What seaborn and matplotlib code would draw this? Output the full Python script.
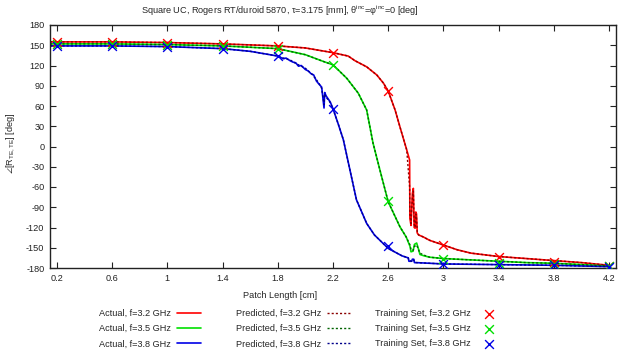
import numpy as np
import pandas as pd
import matplotlib
matplotlib.use('Agg')
import matplotlib.pyplot as plt
import seaborn as sns

red_x = [0.15, 0.2, 0.6, 1.0, 1.4, 1.8, 2.0, 2.2, 2.31, 2.36, 2.444, 2.517, 2.565, 2.6, 2.65,
         2.685, 2.734, 2.755, 2.757, 2.765, 2.775, 2.782, 2.788, 2.795, 2.8, 2.805, 2.81,
         2.82, 2.854, 2.9, 3.0, 3.1, 3.2, 3.4, 3.6, 3.8, 4.0, 4.2]
red_y = [155, 155, 155, 154, 152, 149, 146, 139, 134, 127, 118, 106, 94, 82, 54,
         29, -5, -20, -106, -117, -70, -62, -120, -121, -97, -100, -128,
         -131, -134, -139, -146, -153, -158, -163, -166, -169, -172, -176]
red_pred_y = [155, 155, 155, 154, 152, 149, 146, 139, 134, 127, 118, 106, 94, 82, 54,
              29, -5, -60, -100, -114, -75, -66, -116, -120, -100, -104, -126,
              -131, -134, -139, -146, -153, -158, -163, -166, -169, -172, -176]

green_x = [0.15, 0.2, 0.6, 1.0, 1.4, 1.8, 2.0, 2.13, 2.2, 2.3, 2.383, 2.444, 2.49, 2.54,
           2.6, 2.685, 2.73, 2.758, 2.765, 2.78, 2.79, 2.806, 2.818, 2.83, 2.86, 2.9,
           3.0, 3.2, 3.4, 3.6, 3.8, 4.0, 4.2]
green_y = [152, 152, 152, 151, 149, 145, 136, 126, 121, 101, 79, 54, 5, -35,
           -82, -119, -134, -148, -156, -155, -145, -143, -151, -160, -162, -164,
           -166, -168, -170, -172, -173, -175, -177]
green_pred_y = [152, 152, 152, 151, 149, 145, 136, 126, 121, 101, 79, 54, 5, -35,
                -82, -119, -134, -146, -153, -154, -148, -146, -152, -158, -161, -164,
                -166, -168, -170, -172, -173, -175, -177]

blue_x = [0.15, 0.2, 0.6, 1.0, 1.4, 1.6, 1.8, 1.84, 1.86, 1.89, 1.91, 1.93, 1.95, 1.97,
          2.0, 2.02, 2.04, 2.06, 2.08, 2.1, 2.118, 2.135, 2.14, 2.15, 2.18, 2.2, 2.24,
          2.275, 2.323, 2.37, 2.444, 2.5, 2.6, 2.7, 2.745, 2.75, 2.77, 2.775, 2.785,
          2.79, 2.8, 2.9, 3.0, 3.4, 3.8, 4.2]
blue_y = [149, 149, 149, 148, 145, 141, 134, 130, 131, 127, 125, 124, 119, 120,
          114, 112, 108, 106, 97, 92, 88, 57, 80, 75, 66, 56, 32,
          10, -35, -79, -114, -131, -151, -162, -165, -170, -170, -167, -167,
          -172, -172, -173, -174, -175, -176, -178]
blue_pred_y = [149, 149, 149, 148, 145, 141, 134, 131, 130, 128, 126, 123, 121, 119,
               116, 112, 109, 104, 99, 93, 86, 62, 78, 73, 65, 56, 32,
               10, -35, -79, -114, -131, -151, -162, -165, -169, -170, -168, -168,
               -171, -172, -173, -174, -175, -176, -178]

train_x = [0.2, 0.6, 1.0, 1.4, 1.8, 2.2, 2.6, 3.0, 3.4, 3.8, 4.2]
red_train = [155, 155, 154, 152, 149, 139, 82, -146, -164, -171, -177]
green_train = [152, 152, 151, 149, 144, 121, -81, -167, -172, -174, -177]
blue_train = [149, 149, 148, 145, 134, 56, -147, -174, -175, -176, -178]

freqs = ['3.2', '3.5', '3.8']
xtick_labels = ['0.2', '0.6', '1', '1.4', '1.8', '2.2', '2.6', '3', '3.4', '3.8', '4.2']

sns.set_style('ticks')
plt.rcParams['font.family'] = ['Liberation Sans', 'DejaVu Sans']
plt.rcParams['mathtext.fontset'] = 'custom'
plt.rcParams['mathtext.rm'] = 'Liberation Sans'
plt.rcParams['mathtext.it'] = 'Liberation Sans:italic'
plt.rcParams['mathtext.fallback'] = 'stixsans'
plt.rcParams['axes.unicode_minus'] = False
fs = 6.6
plt.rcParams['font.size'] = fs

fig = plt.figure(figsize=(6.23, 3.52), dpi=100)
ax = fig.add_axes([50 / 623, 1 - 268 / 352, 566 / 623, 243 / 352])

act_colors = ['#ff0000', '#00e000', '#0000e6']
pred_colors = ['#8b0000', '#006400', '#00008b']
xs = [red_x, green_x, blue_x]
acts = [red_y, green_y, blue_y]
preds = [red_pred_y, green_pred_y, blue_pred_y]
trains = [red_train, green_train, blue_train]

for i in range(3):
    df = pd.DataFrame({'x': xs[i], 'y': acts[i]})
    sns.lineplot(data=df, x='x', y='y', ax=ax, color=act_colors[i], lw=1.2,
                 estimator=None, sort=False, label='Actual, f=%s GHz' % freqs[i])
for i in range(3):
    df = pd.DataFrame({'x': xs[i], 'y': preds[i]})
    sns.lineplot(data=df, x='x', y='y', ax=ax, color=pred_colors[i], lw=1.0,
                 estimator=None, sort=False, linestyle=(0, (1.5, 1.5)),
                 label='Predicted, f=%s GHz' % freqs[i])
for i in range(3):
    df = pd.DataFrame({'x': train_x, 'y': trains[i]})
    sns.scatterplot(data=df, x='x', y='y', ax=ax, color=act_colors[i], marker='x',
                    s=40, linewidth=1.0, zorder=5,
                    label='Training Set, f=%s GHz' % freqs[i])

ax.set_xlim(0.15, 4.25)
ax.set_ylim(-180, 180)
ax.set_xticks(train_x)
ax.set_xticklabels(xtick_labels)
ax.set_yticks(np.arange(-180, 181, 30))
ax.tick_params(direction='in', top=True, right=True, length=4, width=0.8,
               labelsize=fs, pad=4, colors='#222222')
for s in ax.spines.values():
    s.set_linewidth(1.0)
    s.set_color('#222222')

ax.set_xlabel('Patch Length [cm]', fontsize=fs)
ax.xaxis.set_label_coords((280 - 50) / 566, -0.095)
ax.set_ylabel(r'$\angle$[R$_{\mathrm{TE,TE}}$] [deg]', fontsize=fs)
ax.yaxis.set_label_coords((17 - 50) / 566, 0.515)

fig.text(280 / 623, 1 - 11 / 352,
         r'Square UC, Rogers RT/duroid 5870, τ=3.175 [mm], θ$^{\mathrm{inc}}$=φ$^{\mathrm{inc}}$=0 [deg]',
         ha='center', va='center', fontsize=fs)

handles, labels = ax.get_legend_handles_labels()
ax.get_legend().remove()
col_right = [201, 351, 501]
for c in range(3):
    fig.legend(handles[3 * c:3 * c + 3], labels[3 * c:3 * c + 3], markerfirst=False,
               frameon=False, loc='upper right',
               bbox_to_anchor=(col_right[c] / 623, 1 - 309 / 352),
               fontsize=fs, handlelength=2.6, handletextpad=0.7,
               labelspacing=0.68, borderaxespad=0, borderpad=0)

fig.savefig('out.png', dpi=100)
